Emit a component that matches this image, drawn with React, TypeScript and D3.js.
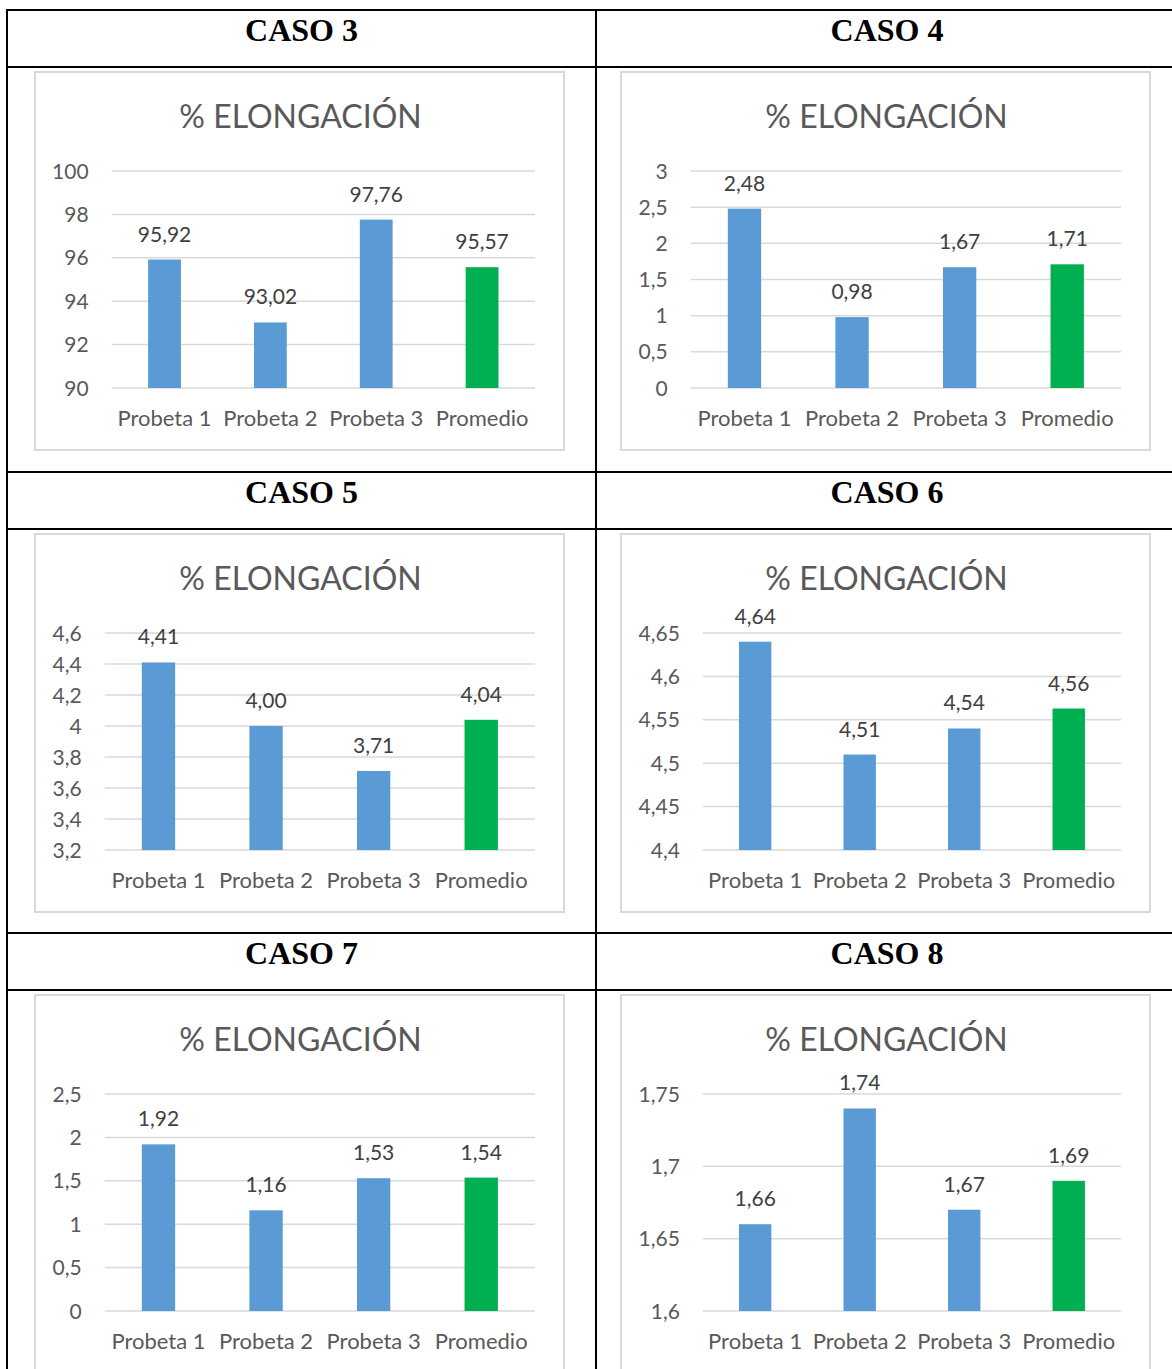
import * as d3 from 'd3'

const categories = ['Probeta 1', 'Probeta 2', 'Probeta 3', 'Promedio']
const casoNames = ['CASO 3', 'CASO 4', 'CASO 5', 'CASO 6', 'CASO 7', 'CASO 8']

const caso3 = [95.92, 93.02, 97.76, 95.567]
const caso4 = [2.48, 0.98, 1.67, 1.71]
const caso5 = [4.41, 4.0, 3.71, 4.04]
const caso6 = [4.64, 4.51, 4.54, 4.563]
const caso7 = [1.92, 1.16, 1.53, 1.537]
const caso8 = [1.66, 1.74, 1.67, 1.69]

const ticks3 = [90, 92, 94, 96, 98, 100]
const ticks4 = [0, 0.5, 1, 1.5, 2, 2.5, 3]
const ticks5 = [3.2, 3.4, 3.6, 3.8, 4, 4.2, 4.4, 4.6]
const ticks6 = [4.4, 4.45, 4.5, 4.55, 4.6, 4.65]
const ticks7 = [0, 0.5, 1, 1.5, 2, 2.5]
const ticks8 = [1.6, 1.65, 1.7, 1.75]

const seriesList = [caso3, caso4, caso5, caso6, caso7, caso8]
const tickList = [ticks3, ticks4, ticks5, ticks6, ticks7, ticks8]

const BLUE = '#5B9BD5'
const GREEN = '#00B050'
const GRID = '#D9D9D9'
const TEXT = '#595959'
const FONT = 'Lato, "Open Sans", sans-serif'

const W = 1172
const H = 1369
const headerTops = [10, 472, 933]
const headerH = 57
const colLines = [7, 596]
const boxX = [35, 621]
const boxW = 529
const boxH = 378

const fmtTick = (v: number) => String(+v.toFixed(3)).replace('.', ',')
const fmtVal = (v: number) => v.toFixed(2).replace('.', ',')

// rough label width for Lato at 21px
const labelWidth = (s: string) =>
  s.split('').reduce((acc, ch) => acc + (ch === ',' ? 5.3 : 12.2), 0)

function Chart({ x, y, values, ticks }: { x: number; y: number; values: number[]; ticks: number[] }) {
  const maxW = d3.max(ticks, t => labelWidth(fmtTick(t))) || 0
  const plotLeft = x + 17 + maxW + 23
  const plotRight = x + boxW - 29
  const plotTop = y + 99
  const plotBottom = y + 316

  const xScale = d3.scaleBand<string>()
    .domain(categories)
    .range([plotLeft, plotRight])
    .paddingInner(0.69)
    .paddingOuter(0.345)

  const yScale = d3.scaleLinear()
    .domain([ticks[0], ticks[ticks.length - 1]])
    .range([plotBottom, plotTop])

  return (
    <g>
      <rect x={x} y={y} width={boxW} height={boxH} fill="#fff" stroke={GRID} strokeWidth={2} />
      <text
        x={x + boxW / 2 + 1}
        y={y + 56}
        textAnchor="middle"
        fontFamily={FONT}
        fontSize={32}
        fill={TEXT}
      >
        % ELONGACIÓN
      </text>
      {ticks.map(t => (
        <g key={t}>
          <line x1={plotLeft} x2={plotRight} y1={yScale(t)} y2={yScale(t)} stroke={GRID} strokeWidth={1.5} />
          <text
            x={plotLeft - 23}
            y={yScale(t)}
            dy="0.36em"
            textAnchor="end"
            fontFamily={FONT}
            fontSize={21}
            fill={TEXT}
          >
            {fmtTick(t)}
          </text>
        </g>
      ))}
      {values.map((v, i) => {
        const cx = (xScale(categories[i]) || 0) + xScale.bandwidth() / 2
        return (
          <g key={i}>
            <rect
              x={xScale(categories[i])}
              y={yScale(v)}
              width={xScale.bandwidth()}
              height={plotBottom - yScale(v)}
              fill={i === 3 ? GREEN : BLUE}
            />
            <text
              x={cx}
              y={yScale(v) - 18}
              textAnchor="middle"
              fontFamily={FONT}
              fontSize={21}
              fill="#404040"
            >
              {fmtVal(v)}
            </text>
            <text
              x={cx}
              y={plotBottom + 38}
              textAnchor="middle"
              fontFamily={FONT}
              fontSize={22}
              fill={TEXT}
            >
              {categories[i]}
            </text>
          </g>
        )
      })}
    </g>
  )
}

export default function App() {
  return (
    <div style={{ position: 'absolute', left: 0, top: 0, width: W, height: H, overflow: 'hidden', background: '#fff' }}>
      <svg width={W} height={H}>
        <rect width={W} height={H} fill="#fff" />
        {headerTops.map((ht, r) => (
          <g key={r}>
            {[0, 1].map(c => {
              const idx = r * 2 + c
              const cellLeft = colLines[c]
              const cellRight = c === 0 ? colLines[1] : 1178
              return (
                <g key={c}>
                  <text
                    x={(cellLeft + cellRight) / 2}
                    y={ht + 31}
                    textAnchor="middle"
                    fontFamily='"Liberation Serif", "Times New Roman", serif'
                    fontWeight="bold"
                    fontSize={32}
                    fill="#000"
                  >
                    {casoNames[idx]}
                  </text>
                  <Chart x={boxX[c]} y={ht + headerH + 5} values={seriesList[idx]} ticks={tickList[idx]} />
                </g>
              )
            })}
          </g>
        ))}
        {headerTops.flatMap(ht => [ht, ht + headerH]).map(yy => (
          <line key={yy} x1={6} x2={W} y1={yy} y2={yy} stroke="#000" strokeWidth={2} />
        ))}
        {colLines.map(xx => (
          <line key={xx} x1={xx} x2={xx} y1={9} y2={H} stroke="#000" strokeWidth={2} />
        ))}
      </svg>
    </div>
  )
}
